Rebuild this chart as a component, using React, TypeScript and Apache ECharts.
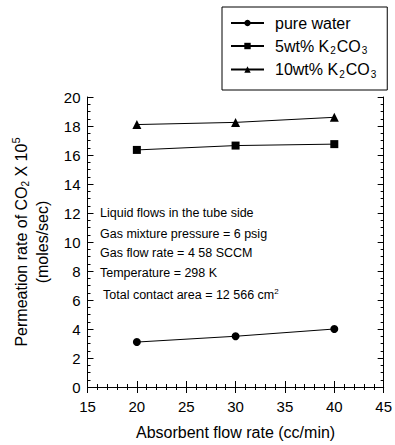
import React, { useEffect, useRef } from "react";
import * as echarts from "echarts";

const flowRates = [20, 30, 40];
const pureWater = [3.1, 3.5, 4.0];
const k2co3_5 = [16.35, 16.65, 16.75];
const k2co3_10 = [18.1, 18.25, 18.6];
const seriesNames = ["pure water", "5wt% K2CO3", "10wt% K2CO3"];
const legendLabels: Record<string, string> = {
  "pure water": "pure water",
  "5wt% K2CO3": "5wt% K{sub|2}CO{sub|3}",
  "10wt% K2CO3": "10wt% K{sub|2}CO{sub|3}",
};
const notes = [
  "Liquid flows in the tube side",
  "Gas mixture pressure = 6 psig",
  "Gas flow rate = 4 58 SCCM",
  "Temperature = 298 K",
  "Total contact area = 12 566 cm{sup|2}",
];
const noteX = [100, 100, 100, 100, 103];
const noteY = [213, 234, 253, 273, 294];

const FONT = "'Liberation Sans', Arial, sans-serif";

export default function App() {
  const ref = useRef<HTMLDivElement>(null);
  useEffect(() => {
    if (!ref.current) return;
    const chart = echarts.init(ref.current, undefined, { renderer: "svg" });
    const axisCommon = {
      axisLine: { show: true, lineStyle: { color: "#000", width: 1 } },
      axisTick: { show: true, inside: true, length: 6, lineStyle: { color: "#000" } },
      minorTick: { show: true, splitNumber: 5, length: 3, lineStyle: { color: "#000" } },
      splitLine: { show: false },
    };
    const legendRich = {
      sub: { fontSize: 10, padding: [9, 1, 0, 1], fontFamily: FONT, color: "#000" },
    };
    const data = [pureWater, k2co3_5, k2co3_10];
    const symbols = ["circle", "rect", "triangle"];
    const sizes = [8, 8, 9];
    chart.setOption({
      animation: false,
      backgroundColor: "#fff",
      textStyle: { fontFamily: FONT, color: "#000" },
      grid: { left: 87.5, right: 10.5, top: 97, bottom: 58 },
      legend: {
        orient: "vertical",
        left: 222,
        top: 7,
        padding: [7, 10, 11, 8],
        itemWidth: 33,
        itemHeight: 8,
        itemGap: 5,
        borderColor: "#000",
        borderWidth: 1,
        data: seriesNames,
        formatter: (name: string) => legendLabels[name] ?? name,
        textStyle: {
          fontSize: 16,
          lineHeight: 18,
          color: "#000",
          fontFamily: FONT,
          padding: [0, 0, 0, 6],
          rich: legendRich,
        },
      },
      xAxis: [
        {
          type: "value",
          min: 15,
          max: 45,
          interval: 5,
          position: "bottom",
          ...axisCommon,
          axisLabel: { fontSize: 15, color: "#000", margin: 12, fontFamily: FONT },
          name: "Absorbent flow rate (cc/min)",
          nameLocation: "middle",
          nameGap: 37,
          nameTextStyle: { fontSize: 16, color: "#000", fontFamily: FONT },
        },
        {
          type: "value",
          min: 15,
          max: 45,
          interval: 5,
          position: "top",
          ...axisCommon,
          axisLabel: { show: false },
        },
      ],
      yAxis: [
        {
          type: "value",
          min: 0,
          max: 20,
          interval: 2,
          position: "left",
          ...axisCommon,
          minorTick: { show: true, splitNumber: 4, length: 3, lineStyle: { color: "#000" } },
          axisLabel: { fontSize: 15, color: "#000", margin: 7, fontFamily: FONT },
          name: "Permeation rate of CO{sub|2} X 10{sup|5}\n(moles/sec)",
          nameLocation: "middle",
          nameRotate: 90,
          nameGap: 35,
          nameTextStyle: {
            fontSize: 16,
            lineHeight: 21,
            color: "#000",
            fontFamily: FONT,
            rich: {
              sub: { fontSize: 10, padding: [9, 0, 0, 0], fontFamily: FONT, color: "#000" },
              sup: { fontSize: 11, padding: [0, 0, 10, 0], fontFamily: FONT, color: "#000" },
            },
          },
        },
        {
          type: "value",
          min: 0,
          max: 20,
          interval: 2,
          position: "right",
          ...axisCommon,
          minorTick: { show: true, splitNumber: 4, length: 3, lineStyle: { color: "#000" } },
          axisLabel: { show: false },
        },
      ],
      graphic: notes.map((t, i) => ({
        type: "text",
        left: noteX[i],
        top: noteY[i] - 7,
        style: {
          text: t,
          fontSize: 12.5,
          fontFamily: FONT,
          fill: "#000",
          rich: {
            sup: { fontSize: 8, padding: [0, 0, 7, 0], fontFamily: FONT, fill: "#000" },
          },
        },
      })),
      series: seriesNames.map((name, i) => ({
        name,
        type: "line",
        xAxisIndex: 0,
        yAxisIndex: 0,
        data: flowRates.map((x, j) => [x, data[i][j]]),
        symbol: symbols[i],
        symbolSize: sizes[i],
        lineStyle: { color: "#000", width: 1 },
        itemStyle: { color: "#000" },
        color: "#000",
      })),
    });
    return () => chart.dispose();
  }, []);
  return (
    <div
      ref={ref}
      style={{ position: "fixed", left: 0, top: 0, width: 395, height: 445 }}
    />
  );
}
